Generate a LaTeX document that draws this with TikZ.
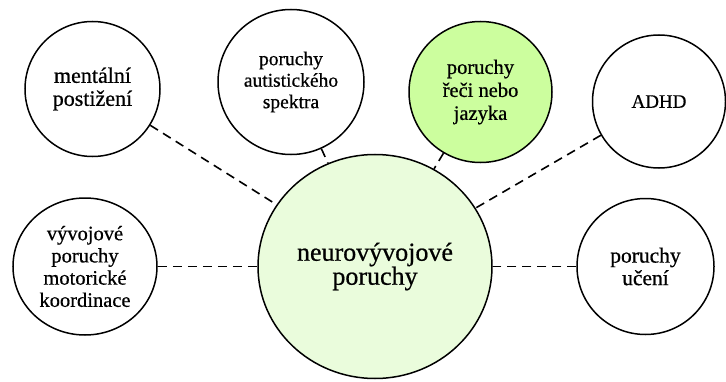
\documentclass[tikz,border=0pt]{standalone}
\usepackage{fontspec}
\setmainfont[FakeBold=0.6]{Liberation Serif}
\usetikzlibrary{shapes.geometric}
\definecolor{centralgreen}{HTML}{EAFCDC}
\definecolor{speechgreen}{HTML}{CCFE9E}
\tikzset{
  bubble/.style={ellipse, draw=black, line width=1.5pt, fill=white, inner sep=0pt, align=center, text=black},
  conn/.style={draw=black, line width=1.6pt, dash pattern=on 9pt off 6pt},
}
\begin{document}
\begin{tikzpicture}[x=1pt,y=1pt]
\useasboundingbox (0,0) rectangle (726,381);
% nodes
\node[bubble, fill=centralgreen, minimum width=234pt, minimum height=224pt,
      font=\fontsize{26}{24}\selectfont] (central) at (375,114.5) {neurovývojové\\poruchy};
\node[bubble, minimum width=135pt, minimum height=135pt,
      font=\fontsize{22}{23}\selectfont] (ment) at (92.5,292) {mentální\\postižení};
\node[bubble, minimum width=146pt, minimum height=145pt,
      font=\fontsize{19.5}{21.5}\selectfont] (aut) at (291,299) {poruchy\\autistického\\spektra};
\node[bubble, fill=speechgreen, minimum width=143pt, minimum height=141pt,
      font=\fontsize{20.5}{23}\selectfont] (rec) at (480.5,289) {poruchy\\řeči nebo\\jazyka};
\node[bubble, minimum width=133pt, minimum height=133pt,
      font=\fontsize{19}{22}\selectfont] (adhd) at (659,279.5) {ADHD};
\node[bubble, minimum width=144pt, minimum height=137pt,
      font=\fontsize{20.5}{22.2}\selectfont] (vyv) at (85,114.5) {vývojové\\poruchy\\motorické\\koordinace};
\node[bubble, minimum width=137pt, minimum height=136pt,
      font=\fontsize{21.5}{22.5}\selectfont] (uc) at (645.5,114.5) {poruchy\\učení};
% connectors
\draw[conn] (ment) -- (central);
\draw[conn] (aut) -- (central);
\draw[conn] (rec) -- (central);
\draw[conn] (adhd) -- (central);
\draw[conn] (vyv) -- (central);
\draw[conn] (uc) -- (central);
\end{tikzpicture}
\end{document}
